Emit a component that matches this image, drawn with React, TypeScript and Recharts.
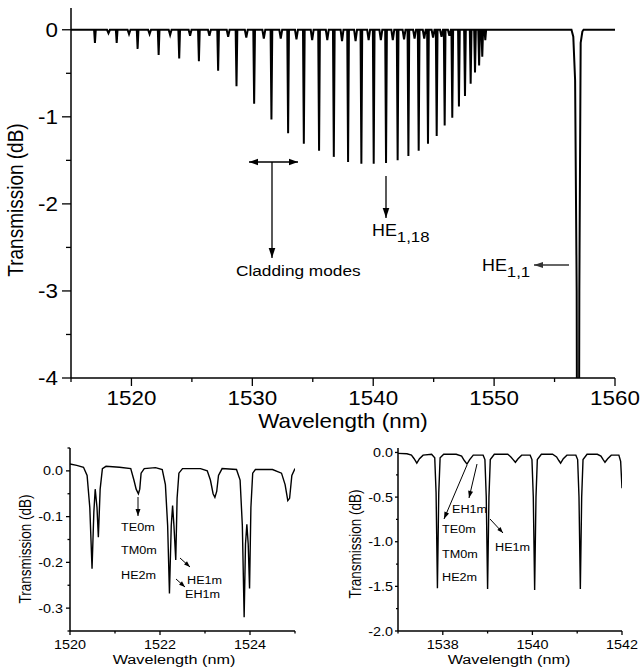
import React from 'react';
import { LineChart, Line, XAxis, YAxis } from 'recharts';

const FONT = '"Liberation Sans", Arial, Helvetica, sans-serif';

// ---- main spectrum, 1515-1560 nm ----
// strong cladding-mode resonances (nm, dB)
const cladWl = [1516.98, 1518.78, 1520.51, 1522.25, 1523.95, 1525.58, 1527.17, 1528.69, 1530.15, 1531.58, 1532.96, 1534.26, 1535.52, 1536.74, 1537.92, 1539.02, 1540.04, 1541.06, 1542.02, 1542.91, 1543.76, 1544.53, 1545.25, 1545.91, 1546.54, 1547.09, 1547.59, 1548.06, 1548.42, 1548.76, 1549.02, 1549.27];
const cladDb = [-0.15, -0.15, -0.22, -0.29, -0.33, -0.36, -0.47, -0.65, -0.85, -1.03, -1.19, -1.31, -1.39, -1.46, -1.52, -1.54, -1.54, -1.53, -1.5, -1.45, -1.39, -1.31, -1.22, -1.1, -1.01, -0.88, -0.76, -0.62, -0.49, -0.41, -0.31, -0.12];
// weak resonances sitting between them
const weakWl = [1518.1, 1519.8, 1521.5, 1523.2, 1524.85, 1526.45, 1528.0, 1529.5, 1530.95, 1532.35, 1533.65, 1534.95, 1536.2, 1537.42, 1538.54, 1539.62, 1540.63, 1541.62, 1542.55, 1543.42, 1544.22, 1544.95, 1545.65, 1546.3];
const weakDb = [-0.04, -0.05, -0.05, -0.06, -0.07, -0.07, -0.08, -0.09, -0.1, -0.1, -0.11, -0.12, -0.12, -0.13, -0.13, -0.12, -0.12, -0.12, -0.11, -0.1, -0.1, -0.09, -0.08, -0.07];
// HE1,1 core-mode dip, runs off the bottom
const coreWl = [1556.4, 1556.55, 1556.7, 1556.83, 1556.86, 1557.02, 1557.05, 1557.16, 1557.3, 1557.4];
const coreDb = [0, -0.08, -0.58, -3.0, -5, -5, -3.0, -0.15, -0.02, 0];

const mainXTicks = [1515, 1520, 1525, 1530, 1535, 1540, 1545, 1550, 1555, 1560];
const mainXMajor = [1520, 1530, 1540, 1550, 1560];
const mainYTicks = [0, -0.5, -1, -1.5, -2, -2.5, -3, -3.5, -4];
const mainYMajor = [0, -1, -2, -3, -4];

// ---- inset (a): 1520-1525 nm ----
const insetAWl = [1520.0, 1520.15, 1520.3, 1520.38, 1520.44, 1520.49, 1520.53, 1520.56, 1520.6, 1520.63, 1520.67, 1520.72, 1520.8, 1521.1, 1521.35, 1521.42, 1521.47, 1521.52, 1521.55, 1521.58, 1521.65, 1521.9, 1522.05, 1522.12, 1522.17, 1522.21, 1522.25, 1522.28, 1522.31, 1522.35, 1522.38, 1522.42, 1522.5, 1522.9, 1523.05, 1523.12, 1523.18, 1523.22, 1523.26, 1523.3, 1523.38, 1523.7, 1523.78, 1523.83, 1523.87, 1523.9, 1523.93, 1523.96, 1523.99, 1524.02, 1524.06, 1524.12, 1524.5, 1524.7, 1524.78, 1524.84, 1524.88, 1524.93, 1525.0];
const insetADb = [0.015, 0.012, 0.008, -0.01, -0.08, -0.214, -0.09, -0.04, -0.08, -0.145, -0.04, 0.005, 0.01, 0.008, 0.005, -0.02, -0.04, -0.05, -0.04, -0.005, 0.005, 0.007, 0.003, -0.03, -0.12, -0.268, -0.12, -0.076, -0.12, -0.195, -0.06, -0.005, 0.005, 0.005, 0.0, -0.02, -0.05, -0.058, -0.045, -0.01, 0.005, 0.003, -0.02, -0.12, -0.32, -0.16, -0.117, -0.16, -0.257, -0.08, -0.005, 0.003, 0.003, -0.005, -0.03, -0.065, -0.06, -0.01, 0.005];
const insetAXTicks = [1520, 1521, 1522, 1523, 1524, 1525];
const insetAXMajor = [1520, 1522, 1524];
const insetAYTicks = [0.05, 0, -0.05, -0.1, -0.15, -0.2, -0.25, -0.3, -0.35];
const insetAYMajor = [0, -0.1, -0.2, -0.3];

// ---- inset (b): 1537-1542 nm ----
const insetBWl = [1537.0, 1537.2, 1537.3, 1537.36, 1537.42, 1537.48, 1537.56, 1537.75, 1537.82, 1537.85, 1537.88, 1537.91, 1537.94, 1538.02, 1538.3, 1538.42, 1538.48, 1538.54, 1538.6, 1538.68, 1538.9, 1538.94, 1538.97, 1539.0, 1539.03, 1539.06, 1539.15, 1539.45, 1539.52, 1539.57, 1539.62, 1539.68, 1539.76, 1539.95, 1539.99, 1540.02, 1540.05, 1540.08, 1540.11, 1540.2, 1540.45, 1540.54, 1540.59, 1540.63, 1540.69, 1540.77, 1540.97, 1541.01, 1541.04, 1541.07, 1541.1, 1541.13, 1541.22, 1541.45, 1541.53, 1541.58, 1541.62, 1541.68, 1541.76, 1541.93, 1541.97, 1542.0];
const insetBDb = [-0.01, -0.015, -0.03, -0.07, -0.12, -0.07, -0.03, -0.02, -0.06, -0.45, -1.52, -0.45, -0.06, -0.02, -0.02, -0.04, -0.09, -0.13, -0.08, -0.03, -0.03, -0.08, -0.5, -1.53, -0.5, -0.08, -0.02, -0.02, -0.05, -0.08, -0.11, -0.07, -0.03, -0.03, -0.08, -0.5, -1.54, -0.5, -0.08, -0.02, -0.02, -0.05, -0.09, -0.12, -0.07, -0.03, -0.03, -0.08, -0.5, -1.53, -0.5, -0.08, -0.02, -0.02, -0.04, -0.08, -0.11, -0.07, -0.03, -0.03, -0.1, -0.4];
const insetBXTicks = [1537, 1538, 1539, 1540, 1541, 1542];
const insetBXMajor = [1538, 1540, 1542];
const insetBYTicks = [0, -0.25, -0.5, -0.75, -1, -1.25, -1.5, -1.75, -2];
const insetBYMajor = [0, -0.5, -1, -1.5, -2];

// dips -> polyline table for the main panel
const mainData = (() => {
  const pts: { wl: number; db: number }[] = [{ wl: 1515, db: 0 }, { wl: 1560, db: 0 }];
  cladWl.forEach((w, i) => pts.push({ wl: w - 0.07, db: 0 }, { wl: w, db: cladDb[i] }, { wl: w + 0.07, db: 0 }));
  weakWl.forEach((w, i) => pts.push({ wl: w - 0.12, db: 0 }, { wl: w, db: weakDb[i] }, { wl: w + 0.12, db: 0 }));
  coreWl.forEach((w, i) => pts.push({ wl: w, db: coreDb[i] }));
  return pts.sort((a, b) => a.wl - b.wl);
})();
const insetAData = insetAWl.map((wl, i) => ({ wl, db: insetADb[i] }));
const insetBData = insetBWl.map((wl, i) => ({ wl, db: insetBDb[i] }));

type TickCfg = {
  side: 'bottom' | 'left' | 'top' | 'right';
  major: number[];
  big: number;
  small: number;
  gap?: number;
  size?: number;
  sx?: number;
  fmt?: (v: number) => string;
};

const tickRenderer = (c: TickCfg) => (p: any) => {
  const { x, y, payload } = p;
  const v = payload.value;
  const isMajor = c.major.some((m) => Math.abs(m - v) < 1e-6);
  const len = isMajor ? c.big : c.small;
  const ln = { stroke: '#000', strokeWidth: 1.3 };
  const sx = c.sx ?? 1;
  const label = isMajor && c.fmt;
  if (c.side === 'bottom') {
    return (
      <g>
        <line x1={x} y1={y} x2={x} y2={y + len} {...ln} />
        {label && (
          <text transform={`translate(${x},${y + len + (c.gap ?? 0)}) scale(${sx},1)`} textAnchor="middle" dy="0.72em" fontSize={c.size} fontFamily={FONT} fill="#000">
            {c.fmt!(v)}
          </text>
        )}
      </g>
    );
  }
  if (c.side === 'left') {
    return (
      <g>
        <line x1={x} y1={y} x2={x - len} y2={y} {...ln} />
        {label && (
          <text transform={`translate(${x - len - (c.gap ?? 0)},${y}) scale(${sx},1)`} textAnchor="end" dy="0.36em" fontSize={c.size} fontFamily={FONT} fill="#000">
            {c.fmt!(v)}
          </text>
        )}
      </g>
    );
  }
  if (c.side === 'top') return <line x1={x} y1={y} x2={x} y2={y + len} {...ln} />;
  return <line x1={x} y1={y} x2={x - len} y2={y} {...ln} />;
};

const axisLine = { stroke: '#000', strokeWidth: 1.5 };

type PanelProps = {
  data: { wl: number; db: number }[];
  width: number;
  height: number;
  margin: { top: number; right: number; bottom: number; left: number };
  yWidth: number;
  xHeight: number;
  xDomain: [number, number];
  yDomain: [number, number];
  xTicks: number[];
  yTicks: number[];
  xTickB: TickCfg;
  yTickL: TickCfg;
  xTickT: TickCfg;
  yTickR: TickCfg;
  strokeWidth: number;
};

const Panel = (p: PanelProps) => (
  <LineChart width={p.width} height={p.height} data={p.data} margin={p.margin}>
    <XAxis dataKey="wl" type="number" domain={p.xDomain} ticks={p.xTicks} interval={0} allowDataOverflow height={p.xHeight} tickSize={0} tickMargin={0} axisLine={axisLine} tickLine={false} tick={tickRenderer(p.xTickB)} />
    <XAxis xAxisId="top" orientation="top" dataKey="wl" type="number" domain={p.xDomain} ticks={p.xTicks} interval={0} allowDataOverflow height={0} tickSize={0} tickMargin={0} axisLine={axisLine} tickLine={false} tick={tickRenderer(p.xTickT)} />
    <YAxis type="number" domain={p.yDomain} ticks={p.yTicks} interval={0} allowDataOverflow width={p.yWidth} tickSize={0} tickMargin={0} axisLine={axisLine} tickLine={false} tick={tickRenderer(p.yTickL)} />
    <YAxis yAxisId="right" orientation="right" type="number" domain={p.yDomain} ticks={p.yTicks} interval={0} allowDataOverflow width={0} tickSize={0} tickMargin={0} axisLine={axisLine} tickLine={false} tick={tickRenderer(p.yTickR)} />
    <Line dataKey="db" type="linear" stroke="#000" strokeWidth={p.strokeWidth} dot={false} activeDot={false} isAnimationActive={false} />
    <Line xAxisId="top" yAxisId="right" dataKey="db" stroke="none" dot={false} activeDot={false} isAnimationActive={false} />
  </LineChart>
);

const Arrow = ({ x1, y1, x2, y2, head = 8, w = 3.2, color = '#000', sw = 1.3, both = false }: any) => {
  const a = Math.atan2(y2 - y1, x2 - x1);
  const tip = (x: number, y: number, ang: number) => {
    const bx = x - head * Math.cos(ang);
    const by = y - head * Math.sin(ang);
    const px = -Math.sin(ang) * w;
    const py = Math.cos(ang) * w;
    return `${x},${y} ${bx + px},${by + py} ${bx - px},${by - py}`;
  };
  return (
    <g>
      <line x1={x1} y1={y1} x2={x2} y2={y2} stroke={color} strokeWidth={sw} />
      <polygon points={tip(x2, y2, a)} fill={color} />
      {both && <polygon points={tip(x1, y1, a + Math.PI)} fill={color} />}
    </g>
  );
};

const T = ({ x, y, size, sx = 1.15, anchor = 'start', rot = false, children }: any) => (
  <text transform={`translate(${x},${y}) scale(${sx},1)${rot ? ' rotate(-90)' : ''}`} fontSize={size} fontFamily={FONT} textAnchor={anchor} dy="0.36em" fill="#000">
    {children}
  </text>
);

const fmtInt = (v: number) => String(v);
const fmt1 = (v: number) => v.toFixed(1);

export default function App() {
  return (
    <div style={{ position: 'absolute', left: 0, top: 0, width: 642, height: 670, background: '#fff' }}>
      <div style={{ position: 'absolute', left: 0, top: 0 }}>
        <Panel
          data={mainData}
          width={642}
          height={440}
          margin={{ top: 8, right: 27, bottom: 0, left: 0 }}
          yWidth={71}
          xHeight={62}
          xDomain={[1515, 1560]}
          yDomain={[-4, 0.25]}
          xTicks={mainXTicks}
          yTicks={mainYTicks}
          xTickB={{ side: 'bottom', major: mainXMajor, big: 8, small: 4, gap: 5, size: 20, sx: 1.12, fmt: fmtInt }}
          yTickL={{ side: 'left', major: mainYMajor, big: 9, small: 5, gap: 4, size: 20, sx: 1.12, fmt: fmtInt }}
          xTickT={{ side: 'top', major: mainXMajor, big: 8, small: 4 }}
          yTickR={{ side: 'right', major: mainYMajor, big: 8, small: 4 }}
          strokeWidth={2}
        />
      </div>
      <div style={{ position: 'absolute', left: 0, top: 430 }}>
        <Panel
          data={insetAData}
          width={320}
          height={240}
          margin={{ top: 18, right: 25, bottom: 0, left: 0 }}
          yWidth={70}
          xHeight={39}
          xDomain={[1520, 1525]}
          yDomain={[-0.35, 0.05]}
          xTicks={insetAXTicks}
          yTicks={insetAYTicks}
          xTickB={{ side: 'bottom', major: insetAXMajor, big: 4, small: 2.5, gap: 5, size: 12.5, sx: 1.15, fmt: fmtInt }}
          yTickL={{ side: 'left', major: insetAYMajor, big: 4, small: 2.5, gap: 3, size: 12.5, sx: 1.15, fmt: fmt1 }}
          xTickT={{ side: 'top', major: insetAXMajor, big: 4, small: 4 }}
          yTickR={{ side: 'right', major: insetAYMajor, big: 4, small: 2.5 }}
          strokeWidth={1.4}
        />
      </div>
      <div style={{ position: 'absolute', left: 320, top: 430 }}>
        <Panel
          data={insetBData}
          width={322}
          height={240}
          margin={{ top: 18, right: 20, bottom: 0, left: 0 }}
          yWidth={78}
          xHeight={39}
          xDomain={[1537, 1542]}
          yDomain={[-2, 0.05]}
          xTicks={insetBXTicks}
          yTicks={insetBYTicks}
          xTickB={{ side: 'bottom', major: insetBXMajor, big: 4, small: 2.5, gap: 5, size: 12.5, sx: 1.15, fmt: fmtInt }}
          yTickL={{ side: 'left', major: insetBYMajor, big: 3, small: 2, gap: 2, size: 12.5, sx: 1.15, fmt: fmt1 }}
          xTickT={{ side: 'top', major: insetBXMajor, big: 4, small: 4 }}
          yTickR={{ side: 'right', major: insetBYMajor, big: 4, small: 2.5 }}
          strokeWidth={1.4}
        />
      </div>

      <svg width={642} height={670} style={{ position: 'absolute', left: 0, top: 0, pointerEvents: 'none' }}>
        {/* main panel titles */}
        <T x={343} y={421} size={20} sx={1.12} anchor="middle">Wavelength (nm)</T>
        <T x={15} y={200} size={19} sx={1.12} anchor="middle" rot>Transmission (dB)</T>
        {/* main panel annotations */}
        <Arrow x1={249} y1={162} x2={298} y2={162} both head={9} w={3.3} />
        <Arrow x1={272} y1={162} x2={272} y2={258} head={10} w={3.3} />
        <T x={236} y={271} size={15}>Cladding modes</T>
        <Arrow x1={386} y1={176} x2={386} y2={218} head={10} w={3.3} />
        <text transform="translate(372,236) scale(1.12,1)" fontSize={16} fontFamily={FONT} fill="#000">
          HE<tspan dy={6} fontSize={15}>1,18</tspan>
        </text>
        <Arrow x1={569} y1={265} x2={534} y2={265} head={9} w={3} color="#333" />
        <text transform="translate(482,271) scale(1.12,1)" fontSize={16} fontFamily={FONT} fill="#000">
          HE<tspan dy={6} fontSize={15}>1,1</tspan>
        </text>

        {/* inset (a) */}
        <T x={174} y={659} size={13.5} sx={1.2} anchor="middle">Wavelength (nm)</T>
        <T x={25} y={549} size={13.5} sx={1.2} anchor="middle" rot>Transmission (dB)</T>
        <Arrow x1={138} y1={497} x2={138} y2={516} head={7} w={2.5} sw={1} />
        <T x={121} y={527} size={11}>TE0m</T>
        <T x={121} y={550} size={11}>TM0m</T>
        <T x={121} y={575} size={11}>HE2m</T>
        <Arrow x1={180} y1={558} x2={190} y2={567} head={6} w={2.2} sw={1} />
        <Arrow x1={176} y1={579} x2={185} y2={587} head={6} w={2.2} sw={1} />
        <T x={187} y={580} size={11}>HE1m</T>
        <T x={185} y={594} size={11}>EH1m</T>

        {/* inset (b) */}
        <T x={509} y={659} size={13.5} sx={1.2} anchor="middle">Wavelength (nm)</T>
        <T x={355} y={544} size={13.5} sx={1.2} anchor="middle" rot>Transmission (dB)</T>
        <Arrow x1={467} y1={465} x2={444} y2={519} head={7} w={2.5} sw={1} />
        <Arrow x1={477} y1={464} x2={469} y2={498} head={7} w={2.5} sw={1} />
        <Arrow x1={490} y1={519} x2={503} y2={533} head={6} w={2.2} sw={1} />
        <T x={452} y={509} size={11}>EH1m</T>
        <T x={442} y={529} size={11}>TE0m</T>
        <T x={442} y={554} size={11}>TM0m</T>
        <T x={442} y={577} size={11}>HE2m</T>
        <T x={495} y={547} size={11}>HE1m</T>
      </svg>
    </div>
  );
}
